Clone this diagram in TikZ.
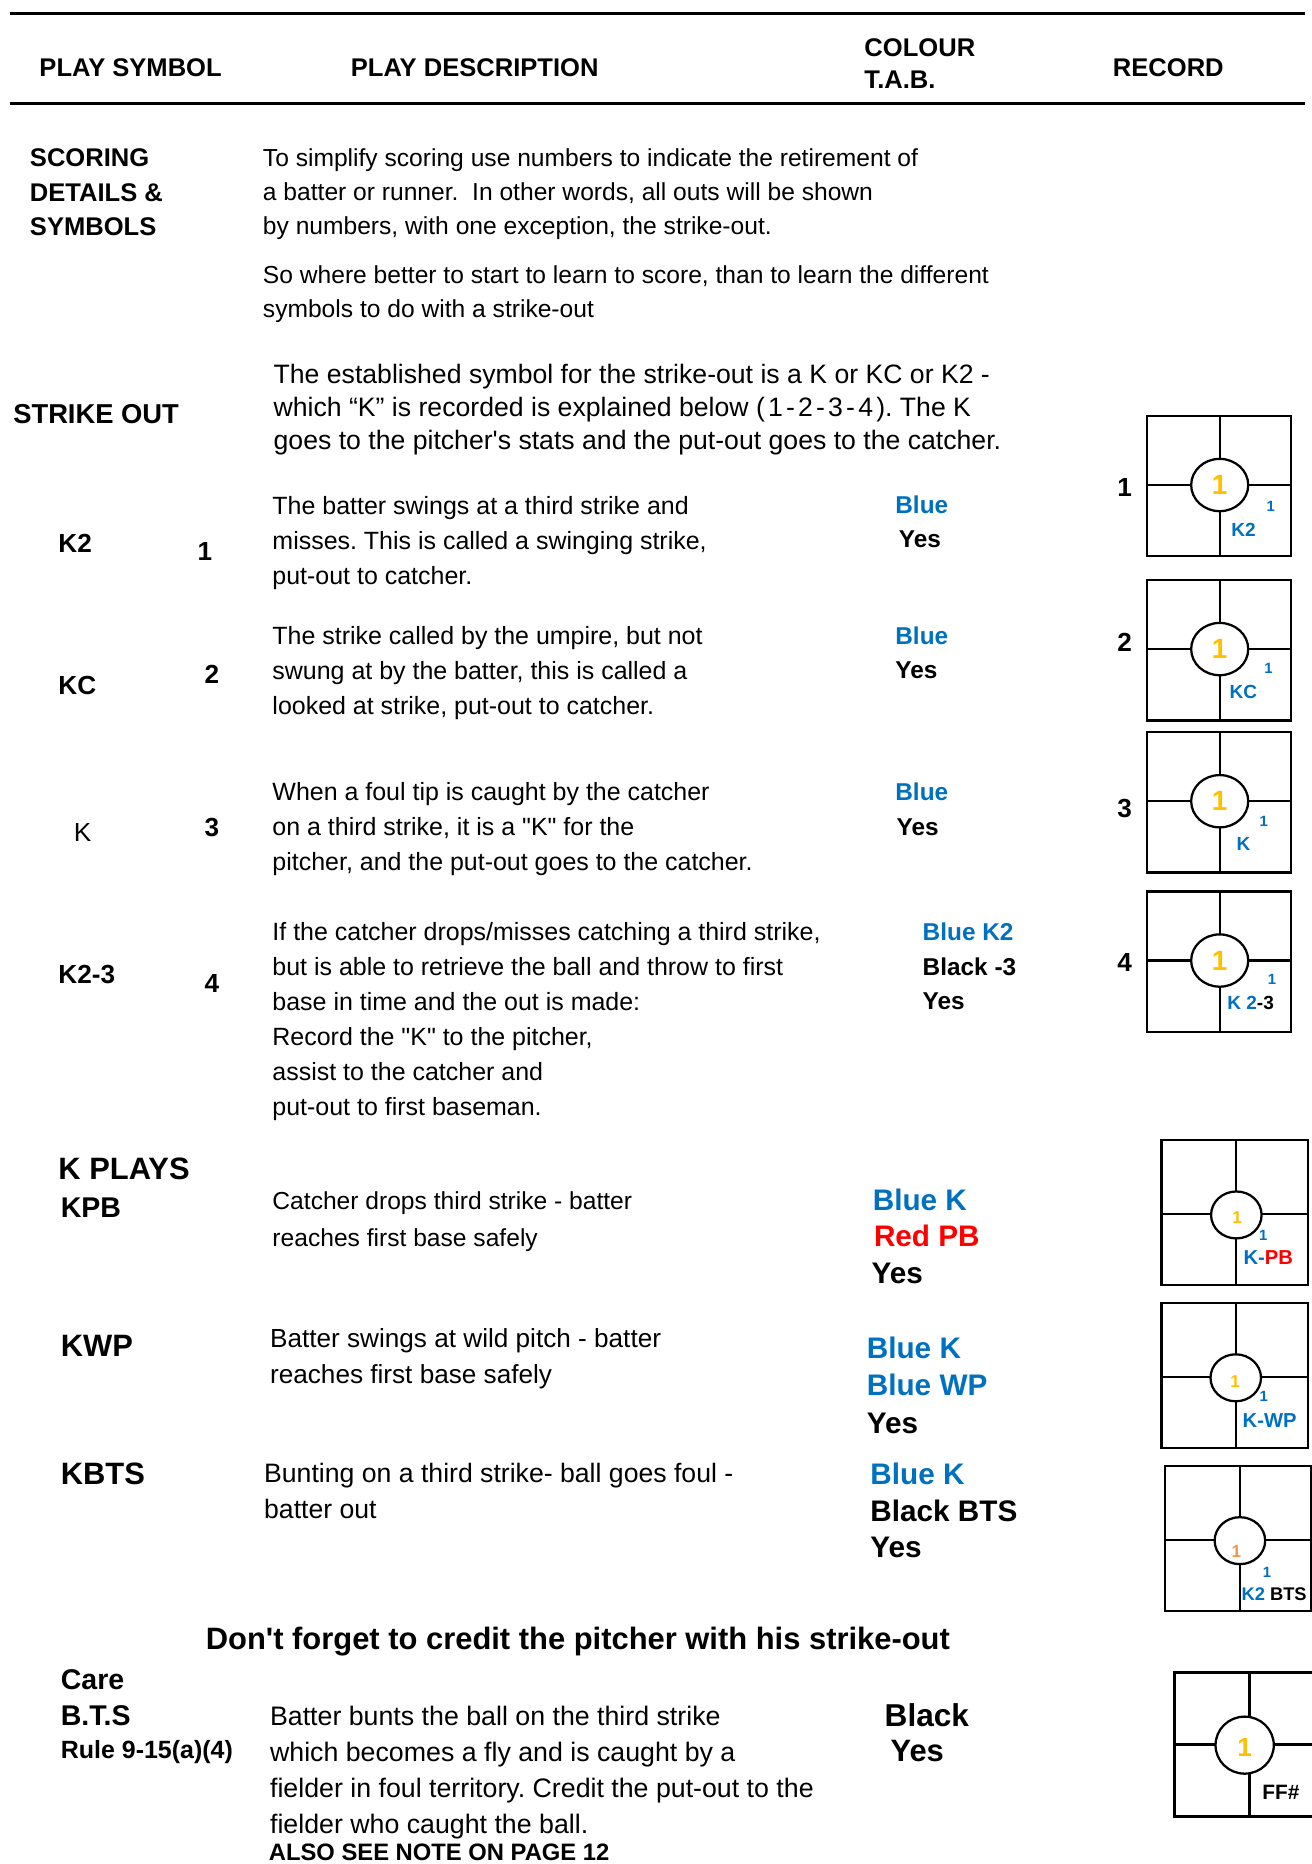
\documentclass[tikz,border=0pt]{standalone}
\usepackage{fontspec}
\setmainfont{Liberation Sans}[Ligatures=TeXOff]
\usetikzlibrary{shapes.geometric}
\definecolor{tabblue}{RGB}{0,112,192}
\definecolor{ballgold}{RGB}{255,192,0}
\definecolor{ballpeach}{RGB}{240,150,80}
\definecolor{pbred}{RGB}{255,0,0}
\frenchspacing

\begin{document}
\begin{tikzpicture}[x=1pt,y=-1pt,
    rule/.style={line width=2.4pt},
    hdr/.style={anchor=west,inner sep=0,align=left,font=\bfseries\fontsize{21.5}{27.5}\selectfont},
    sym/.style={anchor=west,inner sep=0,align=left,font=\bfseries\fontsize{22}{29}\selectfont},
    txt/.style={anchor=north west,inner sep=0,align=left,font=\fontsize{21}{29.5}\selectfont},
    tab/.style={anchor=west,inner sep=0,font=\bfseries\fontsize{20.5}{29}\selectfont},
    tabbig/.style={anchor=west,inner sep=0,font=\bfseries\fontsize{25}{31}\selectfont},
    grid/.style={line width=1.9pt},
    ball/.style={ellipse,draw,fill=white,line width=1.9pt,inner sep=0},
    run/.style={inner sep=0,font=\bfseries\fontsize{#1}{#1}\selectfont}]
  \useasboundingbox (0,0) rectangle (1103,1568);

  % heading
  \draw[rule] (8,11) -- (1098,11);
  \draw[rule] (8,87) -- (1098,87);
  \node[hdr] (hsym) at (33,57) {PLAY SYMBOL};
  \node[hdr] (hdesc) at (295,57) {PLAY DESCRIPTION};
  \node[hdr,anchor=north west] (hcol) at (727,32) {COLOUR\\T.A.B.};
  \node[hdr] (hrec) at (936,57) {RECORD};

  % intro
  \node[sym,anchor=north west,font=\bfseries\fontsize{21.5}{29}\selectfont] (scoring) at (25,125) {SCORING\\DETAILS \&\\SYMBOLS};
  \node[txt,font=\fontsize{20.7}{28.5}\selectfont] (intro) at (221,125)
    {To simplify scoring use numbers to indicate the retirement of\\a batter or runner.\ \ In other words, all outs will be shown\\by numbers, with one exception, the strike-out.};
  \node[txt,font=\fontsize{20.7}{29}\selectfont] (learn) at (221,223)
    {So where better to start to learn to score, than to learn the different\\symbols to do with a strike-out};
  \node[sym,font=\bfseries\fontsize{23}{29}\selectfont] (strike) at (11,348) {STRIKE OUT};
  \node[txt,font=\fontsize{22.4}{28}\selectfont] (est) at (230,306)
    {The established symbol for the strike-out is a K or KC or K2 -\\which “K” is recorded is explained below {\addfontfeatures{LetterSpace=12}(1-2-3-4)}. The K\\goes to the pitcher's stats and the put-out goes to the catcher.};

  % K2
  \node[sym] (k2) at (49,457) {K2};
  \node[sym] (n1) at (166,464) {1};
  \node[txt] (desc1) at (229,417) {The batter swings at a third strike and\\misses. This is called a swinging strike,\\put-out to catcher.};
  \node[tab,tabblue] (blue1) at (753,425) {Blue};
  \node[tab] (yes1) at (756,454) {Yes};

  % KC
  \node[sym] (kc) at (49,577) {KC};
  \node[sym] (n2) at (172,567) {2};
  \node[txt] (desc2) at (229,527) {The strike called by the umpire, but not\\swung at by the batter, this is called a\\looked at strike, put-out to catcher.};
  \node[tab,tabblue] (blue2) at (753,535) {Blue};
  \node[tab] (yes2) at (753,564) {Yes};

  % K
  \node[sym,font=\fontsize{22}{29}\selectfont] (kk) at (62,700) {K};
  \node[sym] (n3) at (172,696) {3};
  \node[txt] (desc3) at (229,658) {When a foul tip is caught by the catcher\\on a third strike, it is a "K" for the\\pitcher, and the put-out goes to the catcher.};
  \node[tab,tabblue] (blue3) at (753,666) {Blue};
  \node[tab] (yes3) at (754,696) {Yes};

  % K2-3
  \node[sym] (k23) at (49,820) {K2-3};
  \node[sym] (n4) at (172,827) {4};
  \node[txt,font=\fontsize{21}{29.4}\selectfont] (desc4) at (229,776)
    {If the catcher drops/misses catching a third strike,\\but is able to retrieve the ball and throw to first\\base in time and the out is made:\\Record the "K" to the pitcher,\\assist to the catcher and\\put-out to first baseman.};
  \node[tab,tabblue] (blue4) at (776,784) {Blue K2};
  \node[tab] (black4) at (776,813) {Black -3};
  \node[tab] (yes4) at (776,842) {Yes};

  % K plays
  \node[sym,font=\bfseries\fontsize{26}{30}\selectfont] (kplays) at (49,983) {K PLAYS};
  \node[sym,font=\bfseries\fontsize{24}{30}\selectfont] (kpb) at (51,1016) {KPB};
  \node[txt,font=\fontsize{20.7}{31}\selectfont] (desc5) at (229,1002) {Catcher drops third strike - batter\\reaches first base safely};
  \node[tabbig,tabblue] (blue5) at (734,1009) {Blue K};
  \node[tabbig,pbred] (red5) at (735,1040) {Red PB};
  \node[tabbig] (yes5) at (733,1071) {Yes};

  \node[sym,font=\bfseries\fontsize{26}{30}\selectfont] (kwp) at (51,1132) {KWP};
  \node[txt,font=\fontsize{22}{31}\selectfont] (desc6) at (227,1117) {Batter swings at wild pitch - batter\\reaches first base safely};
  \node[tabbig,tabblue] (blue6) at (729,1134) {Blue K};
  \node[tabbig,tabblue] (wp6) at (729,1165) {Blue WP};
  \node[tabbig] (yes6) at (729,1197) {Yes};

  \node[sym,font=\bfseries\fontsize{26}{30}\selectfont] (kbts) at (51,1240) {KBTS};
  \node[txt,font=\fontsize{22.4}{30}\selectfont] (desc7) at (222,1231) {Bunting on a third strike- ball goes foul -\\batter out};
  \node[tabbig,tabblue] (blue7) at (732,1240) {Blue K};
  \node[tabbig] (black7) at (732,1271) {Black BTS};
  \node[tabbig] (yes7) at (732,1302) {Yes};

  % reminder and B.T.S
  \node[sym,font=\bfseries\fontsize{26}{30}\selectfont] (credit) at (173,1381) {Don't forget to credit the pitcher with his strike-out};
  \node[sym,font=\bfseries\fontsize{24}{30}\selectfont] (care) at (51,1413) {Care};
  \node[sym,font=\bfseries\fontsize{24}{30}\selectfont] (bts) at (51,1443) {B.T.S};
  \node[sym,font=\bfseries\fontsize{21}{30}\selectfont] (rule) at (51,1474) {Rule 9-15(a)(4)};
  \node[txt,font=\fontsize{22.5}{30.4}\selectfont] (desc8) at (227,1435)
    {Batter bunts the ball on the third strike\\which becomes a fly and is caught by a\\fielder in foul territory. Credit the put-out to the\\fielder who caught the ball.};
  \node[sym,font=\bfseries\fontsize{20}{24}\selectfont] (note) at (226,1558) {ALSO SEE NOTE ON PAGE 12};
  \node[tabbig,font=\bfseries\fontsize{26.6}{31}\selectfont] (black8) at (744,1443) {Black};
  \node[tabbig,font=\bfseries\fontsize{26}{31}\selectfont] (yes8) at (749,1473) {Yes};

  % record boxes 1-4
  \foreach \n/\t/\ly in {1/350/410, 2/488/540, 3/616/680, 4/750/810} {
    \draw[grid] (965,\t) rectangle (1086,\t+118);
    \draw[grid] (1026,\t) -- (1026,\t+118) (965,\t+58) -- (1086,\t+58);
    \node[ball,minimum width=48,minimum height=44] (ball\n) at (1026,\t+58) {};
    \node[run=23.5,ballgold] at (ball\n) {1};
    \node[sym,anchor=center] (lab\n) at (946,\ly) {\n};
  }
  \node[run=12.5,tabblue] (o1) at (1069,426) {1};
  \node[run=16,tabblue] (r1) at (1046,446) {K2};
  \node[run=12.5,tabblue] (o2) at (1067,562) {1};
  \node[run=16,tabblue] (r2) at (1046,582) {KC};
  \node[run=12.5,tabblue] (o3) at (1063,691) {1};
  \node[run=16,tabblue] (r3) at (1046,710) {K};
  \node[run=12.5,tabblue] (o4) at (1070,824) {1};
  \node[run=16] (r4) at (1052,844) {\textcolor{tabblue}{K 2}-3};

  % record boxes 5-7
  \foreach \n/\l/\t/\v in {5/977/959/1040, 6/977/1096/1039.5, 7/980/1233/1043} {
    \draw[grid] (\l,\t) rectangle (\l+123,\t+122);
    \draw[grid] (\v,\t) -- (\v,\t+122) (\l,\t+62.5) -- (\l+123,\t+62.5);
    \node[ball,minimum width=42.5,minimum height=39.5] (ball\n) at (\v,\t+63) {};
  }
  \node[run=14.5,ballgold] at (1040.7,1024.5) {1};
  \node[run=12.5,tabblue] (o5) at (1062.6,1039.3) {1};
  \node[run=17] (r5) at (1066.8,1058) {\textcolor{tabblue}{K-}\textcolor{pbred}{PB}};
  \node[run=14.5,ballgold] at (1039,1162.5) {1};
  \node[run=12.5,tabblue] (o6) at (1063,1175) {1};
  \node[run=17,tabblue] (r6) at (1068,1194.7) {K-WP};
  \node[run=14.5,ballpeach] at (1040,1305) {1};
  \node[run=12.5,tabblue] (o7) at (1065.7,1322.3) {1};
  \node[run=15.4] (r7) at (1071.8,1340.8) {\textcolor{tabblue}{K2} BTS};

  % record box 8
  \draw[grid] (988,1407) rectangle (1112,1528);
  \draw[grid] (1051,1407) -- (1051,1528) (988,1467.5) -- (1112,1467.5);
  \node[ball,minimum width=49,minimum height=48] (ball8) at (1047,1468) {};
  \node[run=22,ballgold] at (1047,1470) {1};
  \node[run=17.5] (r8) at (1077.5,1507.4) {FF\#};
\end{tikzpicture}
\end{document}
